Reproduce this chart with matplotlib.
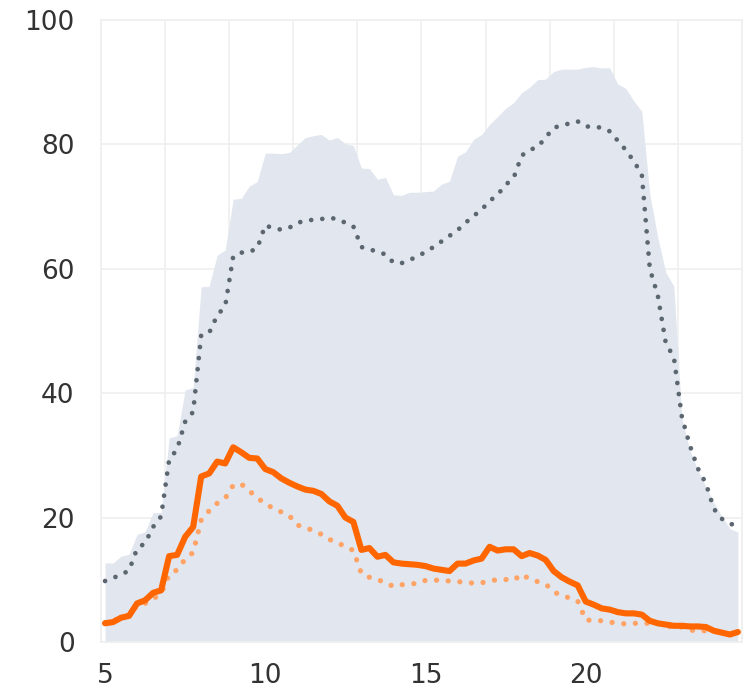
import numpy as np
import matplotlib
matplotlib.use("Agg")
import matplotlib.pyplot as plt

# x positions (hours), every quarter step from 5 to 24.75
hours = np.arange(5.0, 24.76, 0.25)

range_max = [12.7, 12.7, 13.8, 14.1, 17.3, 17.7, 20.8, 20.8, 32.8, 33.2,
             40.5, 40.9, 57.1, 57.2, 62.2, 63.0, 71.2, 71.3, 73.3, 74.0,
             78.6, 78.6, 78.5, 78.7, 79.9, 81.1, 81.4, 81.6, 80.7, 81.1,
             80.1, 79.8, 76.2, 76.1, 74.4, 74.7, 71.9, 71.8, 72.3, 72.3,
             72.4, 72.5, 73.6, 74.1, 78.1, 78.8, 80.8, 81.6, 83.2, 84.5,
             85.8, 86.7, 88.3, 89.2, 90.4, 90.5, 91.7, 92.1, 92.1, 92.1,
             92.4, 92.5, 92.3, 92.3, 89.7, 89.0, 87.0, 85.3, 72.0, 65.0,
             59.4, 57.2, 36.0, 30.8, 27.6, 25.0, 22.4, 20.2, 18.2, 17.7]

mean_line = [9.8, 10.3, 10.8, 11.5, 15.0, 15.9, 18.5, 20.2, 29.3, 31.0,
             35.4, 37.0, 49.3, 49.7, 52.5, 54.0, 62.0, 62.6, 62.7, 63.3,
             67.0, 66.5, 66.3, 66.6, 67.4, 67.7, 67.9, 68.0, 68.2, 68.0,
             67.4, 66.8, 63.5, 63.1, 62.8, 62.3, 61.0, 60.9, 61.4, 62.0,
             62.7, 63.5, 64.4, 65.3, 66.2, 67.4, 68.5, 69.5, 70.9, 71.9,
             73.5, 74.6, 78.2, 79.1, 79.6, 81.1, 82.7, 83.0, 83.4, 83.7,
             82.9, 82.8, 82.7, 82.1, 80.6, 79.1, 77.3, 75.2, 60.0, 55.7,
             48.0, 45.8, 36.2, 31.6, 27.9, 25.5, 21.4, 19.8, 19.0, 18.7]

today = [3.0, 3.2, 3.9, 4.2, 6.2, 6.7, 7.9, 8.3, 13.8, 14.0,
         16.9, 18.5, 26.6, 27.1, 29.0, 28.7, 31.3, 30.5, 29.6, 29.5,
         27.8, 27.3, 26.3, 25.6, 25.0, 24.5, 24.3, 23.8, 22.6, 21.9,
         20.0, 19.3, 14.8, 15.1, 13.7, 14.0, 12.8, 12.6, 12.5, 12.4,
         12.2, 11.8, 11.6, 11.4, 12.6, 12.6, 13.1, 13.4, 15.3, 14.7,
         14.9, 14.9, 13.8, 14.3, 13.9, 13.2, 11.4, 10.4, 9.7, 9.1,
         6.5, 6.0, 5.4, 5.2, 4.8, 4.6, 4.6, 4.4, 3.4, 3.0,
         2.8, 2.6, 2.6, 2.5, 2.5, 2.4, 1.8, 1.5, 1.2, 1.6]

last_week = [3.1, 3.4, 3.9, 4.3, 5.9, 6.2, 6.9, 7.8, 10.8, 11.6,
             13.3, 14.4, 19.6, 21.1, 22.3, 23.1, 25.2, 25.4, 24.3, 23.2,
             22.2, 21.5, 20.9, 20.3, 18.8, 18.4, 17.9, 17.3, 16.5, 15.9,
             15.4, 14.7, 11.0, 10.4, 10.0, 9.6, 8.9, 9.2, 9.35, 9.4,
             9.9, 9.95, 9.9, 9.8, 9.7, 9.6, 9.45, 9.5, 9.85, 10.0,
             10.05, 9.9, 10.9, 10.1, 9.7, 9.3, 8.1, 7.4, 7.1, 6.6,
             3.5, 3.5, 3.4, 3.2, 3.0, 2.9, 3.0, 3.0, 3.0, 3.0,
             2.5, 2.45, 2.4, 1.9, 1.8, 1.8, 1.7, 1.5, 1.3, 1.4]

x_ticks = [5, 10, 15, 20]
y_ticks = [0, 20, 40, 60, 80, 100]

fig = plt.figure(figsize=(7.54, 6.92), dpi=100)
ax = fig.add_axes([0.134, 0.0723, 0.850, 0.8988])

ax.fill_between(hours, 0, range_max, color="#e1e6ef", lw=0, zorder=2)
ax.plot(hours, mean_line, color="#5c6670", lw=3.4,
        linestyle=(0, (0.01, 2.35)), dash_capstyle="round", zorder=3)
ax.plot(hours, last_week, color="#ffa366", lw=3.8,
        linestyle=(0, (0.01, 2.2)), dash_capstyle="round", zorder=4)
ax.plot(hours, today, color="#ff6600", lw=4.4,
        solid_joinstyle="round", solid_capstyle="round", zorder=5)

xlo, xhi = 4.875, 24.875
ax.set_xlim(xlo, xhi)
ax.set_ylim(0, 100)
ax.set_xticks(x_ticks)
ax.set_yticks(y_ticks)
# vertical grid splits the plot into ten equal columns
ax.set_xticks(np.linspace(xlo, xhi, 11), minor=True)
ax.grid(False)
ax.grid(True, which="minor", axis="x", color="#efefef", lw=1.2, zorder=0)
ax.grid(True, which="major", axis="y", color="#efefef", lw=1.2, zorder=0)
ax.set_axisbelow(True)

ax.tick_params(which="both", length=0)
ax.tick_params(axis="x", pad=15, labelsize=19, labelcolor="#333333")
ax.tick_params(axis="y", pad=19, labelsize=19, labelcolor="#333333")
for s in ax.spines.values():
    s.set_color("#efefef")
    s.set_linewidth(1.2)

fig.savefig("out.png", dpi=100)
